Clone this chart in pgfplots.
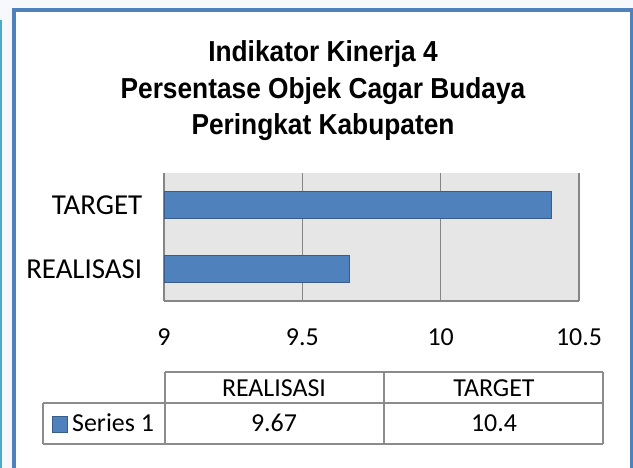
\documentclass[border=0pt]{standalone}
\usepackage{pgfplots}
\pgfplotsset{compat=1.18}
\usepackage{fontspec}
\setmainfont{Carlito}
\newfontfamily\titlefont[FakeStretch=0.91]{Liberation Sans}
\definecolor{barfill}{RGB}{79,129,189}
\definecolor{barline}{RGB}{56,93,138}
\definecolor{framecol}{RGB}{79,129,189}
\definecolor{plotbg}{RGB}{230,230,230}
\definecolor{gridcol}{RGB}{134,134,134}
\definecolor{tablecol}{RGB}{140,140,140}
\definecolor{bgcol}{RGB}{246,248,251}
\definecolor{cyanedge}{RGB}{75,172,198}
\begin{document}
\begin{tikzpicture}
\useasboundingbox (0,0) rectangle (633bp,-468bp);
\fill[bgcol] (0,0) rectangle (633bp,-468bp);
\fill[cyanedge] (0,-20bp) rectangle (2bp,-468bp);
\filldraw[fill=white, draw=framecol, line width=4bp] (14bp,-10bp) rectangle (632bp,-490bp);
% title
\begin{scope}[every node/.style={anchor=base, inner sep=0pt, font=\titlefont\bfseries\fontsize{29}{34}\selectfont}]
\node at (323bp,-61bp) {Indikator Kinerja 4};
\node at (323bp,-98bp) {Persentase Objek Cagar Budaya};
\node at (323bp,-134bp) {Peringkat Kabupaten};
\end{scope}
\begin{axis}[
  at={(164bp,-173bp)}, anchor=north west,
  scale only axis, width=415bp, height=128bp,
  xbar, bar width=27bp,
  xmin=9, xmax=10.5, ymin=-0.5, ymax=1.5,
  ytick={0,1}, yticklabels={REALISASI,TARGET},
  xtick={9,9.5,10,10.5},
  /pgf/number format/assume math mode=true,
  axis background/.style={fill=plotbg},
  axis lines*=left,
  axis line style={draw=gridcol, line width=2bp},
  xmajorgrids,
  grid style={draw=gridcol, line width=1.5bp},
  major tick style={draw=none},
  xticklabel style={font=\fontsize{26}{30}\selectfont, yshift=-24bp},
  yticklabel style={font=\fontsize{29}{32}\selectfont, xshift=-14bp},
]
\addplot[fill=barfill, draw=barline, line width=1.5bp] coordinates {(9.67,0) (10.4,1)};
\end{axis}
% data table
\begin{scope}[tablecol, line width=1.5bp]
\draw (165bp,-372bp) -- (603bp,-372bp);
\draw (43bp,-403bp) -- (603bp,-403bp);
\draw (43bp,-444bp) -- (603bp,-444bp);
\draw (43bp,-403bp) -- (43bp,-444bp);
\draw (165bp,-372bp) -- (165bp,-444bp);
\draw (384bp,-372bp) -- (384bp,-444bp);
\draw (603bp,-372bp) -- (603bp,-444bp);
\end{scope}
\begin{scope}[every node/.style={inner sep=0pt, font=\fontsize{26}{30}\selectfont}]
\node at (274bp,-388bp) {REALISASI};
\node at (494bp,-388bp) {TARGET};
\node at (274bp,-423bp) {9.67};
\node at (494bp,-423bp) {10.4};
\node[anchor=west] at (72bp,-423bp) {Series 1};
\end{scope}
\filldraw[fill=barfill, draw=barline, line width=1bp] (52bp,-416bp) rectangle (67bp,-432bp);
\end{tikzpicture}
\end{document}
